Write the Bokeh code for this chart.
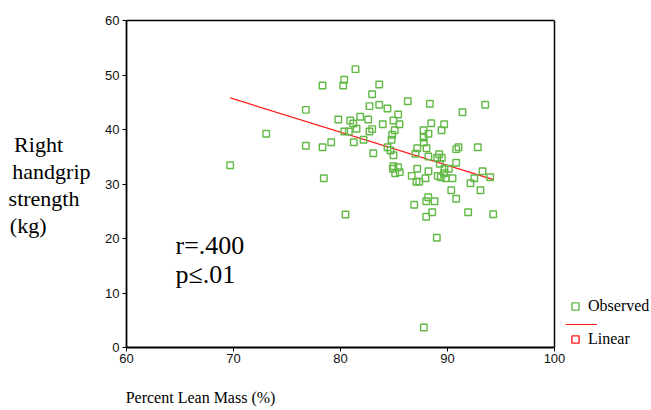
from bokeh.plotting import figure
from bokeh.models import (Range1d, Label, Legend, LegendItem, FixedTicker,
                          LinearAxis, Span)
from bokeh.embed import file_html
from bokeh.resources import INLINE

# ---- data ----
lean_mass = [69.69, 73.06, 76.76, 76.76, 78.32, 78.32, 78.44, 79.13, 79.79, 80.25,
             80.35, 80.35, 80.78, 80.91, 81.19, 81.40, 81.24, 81.50, 81.84, 82.15,
             82.59, 82.71, 82.71, 82.96, 82.96, 83.06, 83.62, 83.62, 83.95, 84.39,
             84.39, 84.67, 84.95, 84.77, 84.83, 84.95, 85.07, 85.39, 85.51, 84.95,
             84.89, 85.39, 85.11, 85.54, 86.29, 86.66, 87.01, 87.17, 87.17, 87.10,
             87.36, 87.76, 87.76, 87.79, 87.94, 88.04, 88.22, 88.22, 88.22, 88.35,
             88.48, 88.20, 88.01, 88.79, 89.04, 89.22, 89.09, 89.47, 89.28, 89.37,
             89.44, 89.69, 89.72, 89.84, 90.12, 89.69, 90.47, 90.35, 90.81, 91.03,
             90.81, 90.81, 91.40, 92.15, 92.50, 92.83, 93.08, 93.27, 93.52, 93.99,
             80.47, 86.89, 88.57, 88.01, 91.93, 89.00, 94.27, 87.79]
grip = [33.45, 39.21, 43.61, 37.01, 48.07, 36.75, 31.06, 37.67, 41.83, 48.07,
        49.12, 39.63, 39.63, 41.65, 41.10, 51.07, 37.67, 40.13, 42.33, 38.11,
        41.83, 44.28, 39.63, 46.48, 40.06, 35.65, 48.26, 44.53, 40.97, 43.85,
        36.75, 36.15, 35.28, 38.11, 39.03, 41.65, 39.87, 42.75, 40.97, 33.27,
        32.79, 33.08, 31.98, 32.17, 45.19, 31.50, 35.54, 36.57, 32.79, 30.40,
        30.40, 39.87, 38.53, 37.61, 31.06, 36.57, 39.21, 35.05, 32.35, 44.72,
        41.16, 27.58, 26.84, 26.84, 34.81, 35.47, 31.50, 34.81, 33.71, 31.25,
        39.87, 40.97, 32.79, 31.06, 32.79, 31.98, 31.06, 28.86, 36.39, 36.75,
        33.89, 27.28, 43.17, 30.15, 31.06, 36.75, 28.86, 32.35, 44.53, 31.25,
        24.40, 26.18, 24.83, 23.98, 24.83, 20.13, 24.46, 3.67]
fit_x = [69.7, 94.3]
fit_y = [45.8, 30.8]
x_ticks = [60, 70, 80, 90, 100]
y_ticks = [0, 10, 20, 30, 40, 50, 60]
X_MIN, X_MAX = 60, 100
Y_MIN, Y_MAX = 0, 60
y_title_lines = ["Right", "handgrip", "strength", "(kg)"]
y_title_pad = [5, 0, 2, 8]          # no-break spaces so right-aligned lines read left-aligned
x_title = "Percent Lean Mass (%)"
stats_lines = ["r=.400", "p\u2264.01"]
legend_labels = ["Observed", " ", "Linear"]

GREEN = "#62b946"
RED = "#ff1a1a"
SERIF = "Liberation Serif"
SANS = "Liberation Sans"

W, H = 651, 410
LEFT, TOP, BOTTOM = 126, 20, 63
BOX_RIGHT = 554                      # right edge of the drawn plot box (px)
# frame runs to the right canvas edge so the legend area is inside it
x_end = X_MIN + (X_MAX - X_MIN) * (W - LEFT) / (BOX_RIGHT - LEFT)

p = figure(width=W, height=H, output_backend="svg", toolbar_location=None,
           x_range=Range1d(X_MIN, x_end), y_range=Range1d(Y_MIN, Y_MAX),
           min_border_left=LEFT, min_border_right=0,
           min_border_top=TOP, min_border_bottom=BOTTOM)
p.xgrid.visible = False
p.ygrid.visible = False
p.outline_line_color = None
p.background_fill_color = "white"
p.border_fill_color = "white"
# a far-away range used only so the legend's red square has a renderer
p.extra_y_ranges = {"legend_only": Range1d(1e6, 1e6 + 1)}

for ax in (p.xaxis, p.yaxis):
    ax.axis_line_color = "black"
    ax.axis_line_width = 1.8
    ax.major_tick_line_color = "black"
    ax.major_tick_in = 0
    ax.major_tick_out = 4
    ax.minor_tick_line_color = None
    ax.major_label_text_font = SANS
    ax.major_label_text_font_size = "13px"
    ax.major_label_text_color = "#111111"
p.xaxis.ticker = FixedTicker(ticks=x_ticks)
p.yaxis.ticker = FixedTicker(ticks=y_ticks)
p.xaxis.bounds = (X_MIN, X_MAX)
p.xaxis.major_label_standoff = 2
p.yaxis.major_label_standoff = 3

def px_to_y(py):
    return round(Y_MAX - (py - TOP) * (Y_MAX - Y_MIN) / (H - BOTTOM - TOP), 2)

def px_to_x(px):
    return round(X_MIN + (px - LEFT) * (X_MAX - X_MIN) / (BOX_RIGHT - LEFT), 2)

# top border of the box
top_ax = LinearAxis(ticker=FixedTicker(ticks=[]), bounds=(X_MIN, X_MAX),
                    axis_line_color="black", axis_line_width=1.5,
                    major_tick_line_color=None, minor_tick_line_color=None,
                    major_label_text_color=None)
p.add_layout(top_ax, "above")
# right border of the box
p.add_layout(Span(location=X_MAX, dimension="height", line_color="black",
                  line_width=1.5))

# y title: horizontal lines drawn as labels of an extra left axis
yt_pos = [px_to_y(py) for py in (144, 171, 198, 225)]
yt_axis = LinearAxis(ticker=FixedTicker(ticks=yt_pos),
                     major_label_overrides={v: t + "\u00a0" * n for v, t, n in
                                            zip(yt_pos, y_title_lines, y_title_pad)},
                     axis_line_color=None, major_tick_line_color=None,
                     minor_tick_line_color=None, major_tick_out=0, major_tick_in=0,
                     major_label_standoff=12,
                     major_label_text_font=SERIF, major_label_text_font_size="22px",
                     major_label_text_color="black")
p.add_layout(yt_axis, "left")

# x title: label of an extra bottom axis
xt_pos = [px_to_x(200)]
xt_axis = LinearAxis(ticker=FixedTicker(ticks=xt_pos),
                     major_label_overrides={xt_pos[0]: x_title},
                     axis_line_color=None, major_tick_line_color=None,
                     minor_tick_line_color=None, major_tick_out=0, major_tick_in=0,
                     major_label_standoff=23,
                     major_label_text_font=SERIF, major_label_text_font_size="16px",
                     major_label_text_color="black")
p.add_layout(xt_axis, "below")

fit = p.line(fit_x, fit_y, line_color=RED, line_width=1.2)
obs = p.scatter(lean_mass, grip, marker="square", size=6.5,
                fill_color="white", fill_alpha=0.0,
                line_color=GREEN, line_width=1.4)
lin_sq = p.scatter(fit_x, fit_y, y_range_name="legend_only", marker="square",
                   size=6.5, fill_color="white", fill_alpha=0.0,
                   line_color=RED, line_width=1.4)

# statistics text inside the plot area
for i, t in enumerate(stats_lines):
    p.add_layout(Label(x=px_to_x(175), y=px_to_y(245 + 29 * i), text=t,
                       text_font=SERIF, text_font_size="26px",
                       text_color="black", text_baseline="alphabetic"))

def make_legend(label, renderers, vy, gw):
    lg = Legend(items=[LegendItem(label=label, renderers=renderers)],
                location=(439, vy), orientation="vertical",
                padding=0, margin=0, spacing=0,
                glyph_width=gw, glyph_height=18, label_height=18,
                label_standoff=3, border_line_alpha=0,
                background_fill_alpha=0,
                label_text_font=SERIF, label_text_font_size="16px",
                label_text_color="black")
    p.add_layout(lg, "center")

make_legend(legend_labels[0], [obs], 32, 20)
make_legend(legend_labels[1], [fit], 14.5, 32)
make_legend(legend_labels[2], [lin_sq], -1, 20)

open("out.html", "w").write(file_html(p, INLINE))
